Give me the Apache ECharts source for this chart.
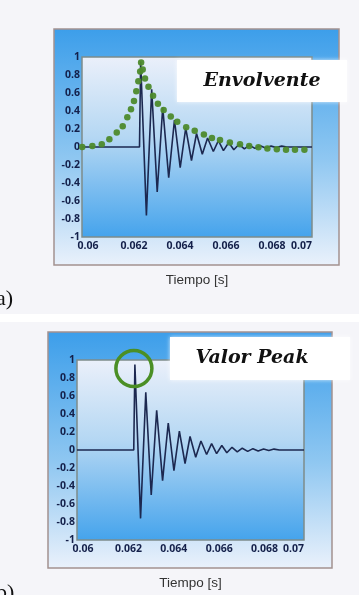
<!DOCTYPE html>
<html>
<head>
	<meta charset="UTF-8">
	<title>Envolvente y valor peak</title>
	<script src="https://cdn.jsdelivr.net/npm/echarts@6/dist/echarts.min.js"></script>
	<style>
		html, body { margin: 0; padding: 0; background: #f5f5f9; }
		#container { width: 359px; height: 595px; }
	</style>
</head>
<body>
	<div id="container"></div>
	<script>
		// senal (s, amplitud) - picos
		var timeS = [0.06, 0.0625, 0.06255, 0.06280, 0.06303, 0.06327, 0.06351, 0.06377, 0.06402, 0.06427,
			0.06451, 0.06476, 0.06498, 0.06523, 0.06546, 0.06571, 0.06593, 0.06615, 0.06638, 0.06660,
			0.06683, 0.06706, 0.06728, 0.06752, 0.06775, 0.06798, 0.06822, 0.06845, 0.06868, 0.06891, 0.07];
		var signal = [0, 0, 0.95, -0.76, 0.64, -0.50, 0.44, -0.34, 0.30, -0.23,
			0.21, -0.15, 0.15, -0.08, 0.10, -0.05, 0.07, -0.04, 0.05, -0.03,
			0.03, -0.02, 0.02, -0.015, 0.015, -0.01, 0.01, -0.005, 0.01, 0, 0];

		// envolvente (puntos verdes)
		var envTime = [0.06001, 0.06045, 0.06086, 0.06119, 0.06151, 0.06177, 0.06197, 0.06213, 0.06226, 0.06236,
			0.06245, 0.06253, 0.06257, 0.06264, 0.06274, 0.06289, 0.06309, 0.06330, 0.06355, 0.06386,
			0.06414, 0.06453, 0.06490, 0.06530, 0.06565, 0.06600, 0.06643, 0.06687, 0.06727, 0.06767,
			0.06806, 0.06847, 0.06887, 0.06926, 0.06967];
		var envValue = [0, 0.01, 0.03, 0.085, 0.16, 0.23, 0.33, 0.42, 0.51, 0.62,
			0.73, 0.84, 0.94, 0.86, 0.76, 0.67, 0.57, 0.48, 0.41, 0.34,
			0.28, 0.22, 0.18, 0.14, 0.10, 0.078, 0.05, 0.03, 0.012, -0.003,
			-0.018, -0.025, -0.03, -0.03, -0.03];

		var xTickLabels = ['0.06', '0.062', '0.064', '0.066', '0.068', '0.07'];
		var yTickLabels = ['-1', '-0.8', '-0.6', '-0.4', '-0.2', '0', '0.2', '0.4', '0.6', '0.8', '1'];
		var peakPoint = [0.06255, 0.95];

		function pairs(xs, ys) {
			return xs.map(function (x, i) { return [x, ys[i]]; });
		}

		var plotBg = new echarts.graphic.LinearGradient(0, 0, 0, 1, [
			{offset: 0, color: '#ebf0fa'},
			{offset: 0.45, color: '#b4d7f3'},
			{offset: 1, color: '#44a3ec'}
		]);
		var frameBg = new echarts.graphic.LinearGradient(0, 0, 0, 1, [
			{offset: 0, color: '#3c9eea'},
			{offset: 0.55, color: '#8fc7f1'},
			{offset: 1, color: '#eaf1fb'}
		]);

		var labelFont = {color: '#14204a', fontSize: 10.5, fontWeight: 'bold', fontFamily: 'Open Sans'};

		function xAxisFor(gridIndex) {
			return {
				type: 'value', gridIndex: gridIndex, min: 0.06, max: 0.07, interval: 0.002,
				name: 'Tiempo [s]', nameLocation: 'middle', nameGap: 36,
				nameTextStyle: {color: '#333', fontSize: 13.5, fontFamily: 'Liberation Sans'},
				axisLine: {show: false}, axisTick: {show: false}, splitLine: {show: false},
				axisLabel: Object.assign({
					margin: 4, padding: [0, 0, 0, 12], alignMaxLabel: 'right',
					formatter: function (v) { return xTickLabels[Math.round((v - 0.06) / 0.002)]; }
				}, labelFont)
			};
		}
		function yAxisFor(gridIndex) {
			return {
				type: 'value', gridIndex: gridIndex, min: -1, max: 1, interval: 0.2,
				axisLine: {show: false}, axisTick: {show: false}, splitLine: {show: false},
				axisLabel: Object.assign({
					margin: 2,
					formatter: function (v) { return yTickLabels[Math.round((v + 1) / 0.2)]; }
				}, labelFont)
			};
		}

		var dom = document.getElementById('container');
		var myChart = echarts.init(dom);

		var option = {
			backgroundColor: '#f5f5f9',
			animation: false,
			grid: [
				{left: 82, top: 57, width: 230, height: 180, show: true, backgroundColor: plotBg, borderColor: '#7d8c8a', borderWidth: 1.5},
				{left: 77, top: 360, width: 227, height: 180, show: true, backgroundColor: plotBg, borderColor: '#7d8c8a', borderWidth: 1.5}
			],
			xAxis: [xAxisFor(0), xAxisFor(1)],
			yAxis: [yAxisFor(0), yAxisFor(1)],
			graphic: [
				// separacion blanca entre las dos capturas
				{type: 'rect', z: -20, shape: {x: 0, y: 314, width: 359, height: 8}, style: {fill: '#ffffff'}},
				{type: 'rect', z: -10, shape: {x: 54, y: 29, width: 285, height: 236}, style: {fill: frameBg, stroke: '#a39190', lineWidth: 1.5}},
				{type: 'rect', z: -10, shape: {x: 48, y: 332, width: 284, height: 236}, style: {fill: frameBg, stroke: '#a39190', lineWidth: 1.5}},
				{type: 'rect', z: 10, shape: {x: 177, y: 60, width: 170, height: 42}, style: {fill: '#ffffff', shadowBlur: 4, shadowColor: 'rgba(255,255,255,0.8)'}},
				{type: 'text', z: 11, x: 262, y: 81, style: {text: 'Envolvente', fill: '#111', font: 'italic bold 19px "DejaVu Serif"', align: 'center', verticalAlign: 'middle'}},
				{type: 'rect', z: 10, shape: {x: 170, y: 337, width: 180, height: 43}, style: {fill: '#ffffff', shadowBlur: 4, shadowColor: 'rgba(255,255,255,0.8)'}},
				{type: 'text', z: 11, x: 252, y: 358, style: {text: 'Valor Peak', fill: '#111', font: 'italic bold 19px "DejaVu Serif"', align: 'center', verticalAlign: 'middle'}},
				{type: 'text', z: 11, x: -4, y: 299, style: {text: 'a)', fill: '#111', font: '22px "Liberation Serif"', verticalAlign: 'middle'}},
				{type: 'text', z: 11, x: -4, y: 593, style: {text: 'b)', fill: '#111', font: '22px "Liberation Serif"', verticalAlign: 'middle'}}
			],
			series: [
				{
					name: 'senal a', type: 'line', xAxisIndex: 0, yAxisIndex: 0,
					data: pairs(timeS, signal), showSymbol: false,
					lineStyle: {color: '#1c2850', width: 1.6}, z: 3
				},
				{
					name: 'envolvente', type: 'scatter', xAxisIndex: 0, yAxisIndex: 0,
					data: pairs(envTime, envValue), symbolSize: 6.5,
					itemStyle: {color: '#4d8a2c', opacity: 0.95}, z: 4
				},
				{
					name: 'senal b', type: 'line', xAxisIndex: 1, yAxisIndex: 1,
					data: pairs(timeS, signal), showSymbol: false,
					lineStyle: {color: '#1c2850', width: 1.6}, z: 3,
					markPoint: {
						symbol: 'circle', symbolSize: 36, symbolOffset: [-1, 4],
						label: {show: false},
						itemStyle: {color: 'rgba(0,0,0,0)', borderColor: '#4b8f25', borderWidth: 3.5},
						data: [{coord: peakPoint}]
					}
				}
			]
		};

		if (option && typeof option === 'object') {
			myChart.setOption(option, true);
		}
	</script>
</body>
</html>
